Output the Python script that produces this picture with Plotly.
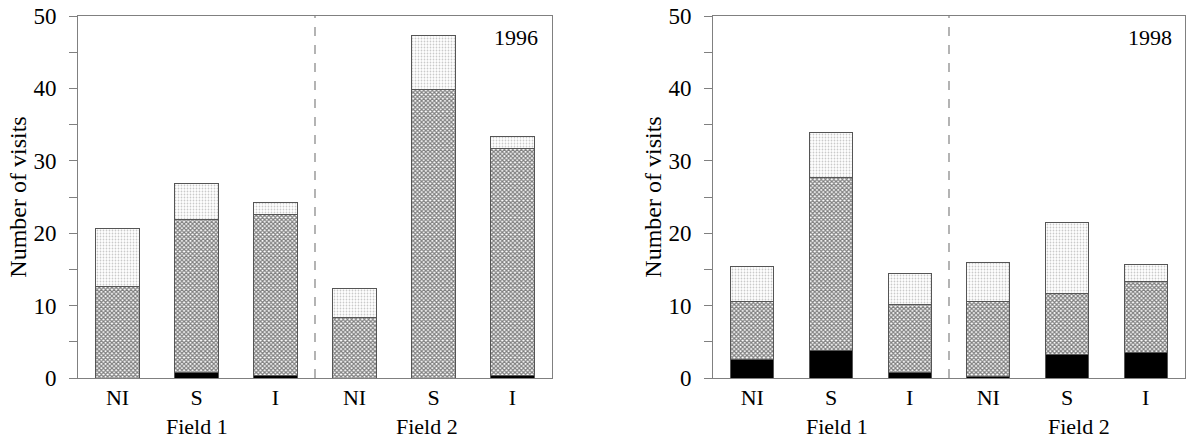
import plotly.graph_objects as go

# Treatment categories along each panel, grouped by field
categories = ["NI", "S", "I", "NI", "S", "I"]
fields = ["Field 1", "Field 2"]
positions = [0, 1, 2, 3, 4, 5]

# 1996: segment values (bottom black, middle crosshatch, top dotted)
black_1996 = [0.0, 0.7, 0.3, 0.0, 0.0, 0.3]
cross_1996 = [12.7, 21.25, 22.3, 8.4, 39.9, 31.35]
dots_1996 = [7.95, 4.95, 1.7, 3.9, 7.4, 1.65]

# 1998: segment values
black_1998 = [2.5, 3.75, 0.8, 0.25, 3.25, 3.5]
cross_1998 = [8.0, 24.0, 9.4, 10.25, 8.45, 9.8]
dots_1998 = [4.95, 6.2, 4.25, 5.4, 9.8, 2.4]

years = ["1996", "1998"]

FONT = "Liberation Serif"
EDGE = dict(color="#555555", width=1)
AXIS_COL = "#808080"

fig = go.Figure()

panels = [
    (black_1996, cross_1996, dots_1996, "x", "y"),
    (black_1998, cross_1998, dots_1998, "x2", "y2"),
]

for black, cross, dots, xa, ya in panels:
    fig.add_trace(go.Bar(
        x=positions, y=black, xaxis=xa, yaxis=ya, width=0.55,
        marker=dict(color="black", line=EDGE), showlegend=False,
    ))
    fig.add_trace(go.Bar(
        x=positions, y=cross, xaxis=xa, yaxis=ya, width=0.55,
        marker=dict(color="white", line=EDGE,
                    pattern=dict(shape="x", fgcolor="#000000", bgcolor="white",
                                 size=3, solidity=0.65, fillmode="overlay")),
        showlegend=False,
    ))
    fig.add_trace(go.Bar(
        x=positions, y=dots, xaxis=xa, yaxis=ya, width=0.55,
        marker=dict(color="white", line=EDGE,
                    pattern=dict(shape=".", fgcolor="#959595", bgcolor="white",
                                 size=3, solidity=0.28, fillmode="overlay")),
        showlegend=False,
    ))

W, H = 1186, 441
xdom1 = [78 / W, 552 / W]
xdom2 = [713 / W, 1185 / W]

xaxis_common = dict(
    range=[-0.5, 5.5], tickvals=positions, ticktext=categories,
    showline=True, linecolor=AXIS_COL, linewidth=1, mirror=True,
    ticks="", showgrid=False, zeroline=False,
    tickfont=dict(family=FONT, size=22, color="black"),
)
yaxis_common = dict(
    range=[0, 50], tickvals=[0, 10, 20, 30, 40, 50],
    showline=True, linecolor=AXIS_COL, linewidth=1, mirror=True,
    ticks="outside", ticklen=8, tickcolor=AXIS_COL, ticklabelstandoff=8,
    minor=dict(dtick=5, ticks="outside", ticklen=8, tickcolor=AXIS_COL),
    showgrid=False, zeroline=False,
    tickfont=dict(family=FONT, size=23, color="black"),
    title=dict(text="Number of visits", font=dict(family=FONT, size=24, color="black"),
               standoff=0),
)

fig.update_layout(
    width=W, height=H,
    margin=dict(l=0, r=0, t=16, b=63),
    paper_bgcolor="white", plot_bgcolor="white",
    barmode="stack", bargap=0.45,
    xaxis=dict(domain=xdom1, anchor="y", **xaxis_common),
    yaxis=dict(domain=[0, 1], anchor="x", **yaxis_common),
    xaxis2=dict(domain=xdom2, anchor="y2", **xaxis_common),
    yaxis2=dict(domain=[0, 1], anchor="x2", **yaxis_common),
)

# Dashed separator between the two fields, year label, and field captions
caption_x = {"x": [1, 3.92], "x2": [1.07, 4.15]}
for xa, ya, year in [("x", "y", years[0]), ("x2", "y2", years[1])]:
    fig.add_shape(type="line", xref=xa, yref=ya, x0=2.5, x1=2.5, y0=0, y1=50,
                  line=dict(color="#8c8c8c", width=1.3, dash="dash"))
    fig.add_annotation(xref=xa, yref=ya, x=5.05, y=47, text=year, showarrow=False,
                       font=dict(family=FONT, size=22, color="black"))
    for fx, label in zip(caption_x[xa], fields):
        fig.add_annotation(xref=xa, yref="paper", x=fx, y=-0.135, yanchor="middle",
                           text=label, showarrow=False,
                           font=dict(family=FONT, size=22, color="black"))

fig.write_html("out.html")
